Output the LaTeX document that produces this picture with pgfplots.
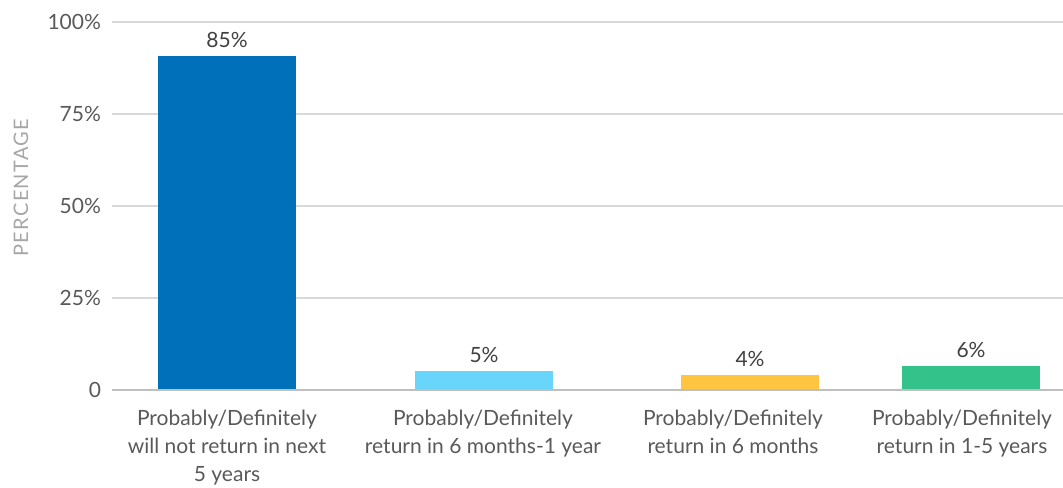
\documentclass[border=0pt]{standalone}
\usepackage{pgfplots}
\pgfplotsset{compat=1.18}
\usepackage{fontspec}
\setmainfont{Lato}
\definecolor{cBlue}{RGB}{0,112,186}
\definecolor{cLight}{RGB}{106,213,251}
\definecolor{cYellow}{RGB}{255,197,64}
\definecolor{cGreen}{RGB}{51,194,137}
\definecolor{labgray}{RGB}{89,89,89}
\definecolor{valgray}{RGB}{64,64,64}
\definecolor{titgray}{RGB}{166,166,166}
\definecolor{gridgray}{RGB}{217,217,217}
\definecolor{basegray}{RGB}{191,191,191}
\begin{document}
\begin{tikzpicture}
\begin{axis}[name=ax, scale only axis, width=475.5pt, height=184pt,
  xmin=112, xmax=1063, ymin=0, ymax=100,
  ybar, bar width=69pt, bar shift=0pt,
  axis line style={draw=none}, tick style={draw=none},
  ymajorgrids, major grid style={gridgray, line width=1pt},
  xtick={227,483,733,962},
  xticklabels={Probably/Definitely\\will not return in next\\5 years,
    Probably/Definitely\\return in 6 months-1 year,
    Probably/Definitely\\return in 6 months,
    Probably/Definitely\\return in 1-5 years},
  xticklabel style={align=center, text=labgray, font=\fontsize{10.5}{14}\selectfont, yshift=-2pt},
  ytick={0,25,50,75,100}, yticklabels={0,25\%,50\%,75\%,100\%},
  yticklabel style={text=labgray, font=\fontsize{10.5}{13}\selectfont, xshift=-2pt},
  ylabel={PERCENTAGE},
  every axis y label/.style={at={(axis description cs:-0.0957,0.55)}, rotate=90, anchor=center, text=titgray, font=\fontsize{10}{12}\selectfont\addfontfeature{LetterSpace=6.5}},
  nodes near coords, point meta=explicit symbolic,
  nodes near coords style={text=valgray, font=\fontsize{10.5}{13}\selectfont, yshift=0.5pt},
]
\addplot[fill=cBlue, draw=none, bar shift=0pt] coordinates {(227,90.8) [85\%]};
\addplot[fill=cLight, draw=none, bar shift=0pt] coordinates {(484,5.2) [5\%]};
\addplot[fill=cYellow, draw=none, bar shift=0pt] coordinates {(750,4.1) [4\%]};
\addplot[fill=cGreen, draw=none, bar shift=0pt] coordinates {(971,6.5) [6\%]};
\draw[basegray, line width=1pt] (axis cs:112,0) -- (axis cs:1063,0);
\end{axis}
\pgfresetboundingbox
\path ([xshift=-56pt,yshift=-48.5pt]ax.south west) rectangle ([yshift=11pt]ax.north east);
\end{tikzpicture}
\end{document}
